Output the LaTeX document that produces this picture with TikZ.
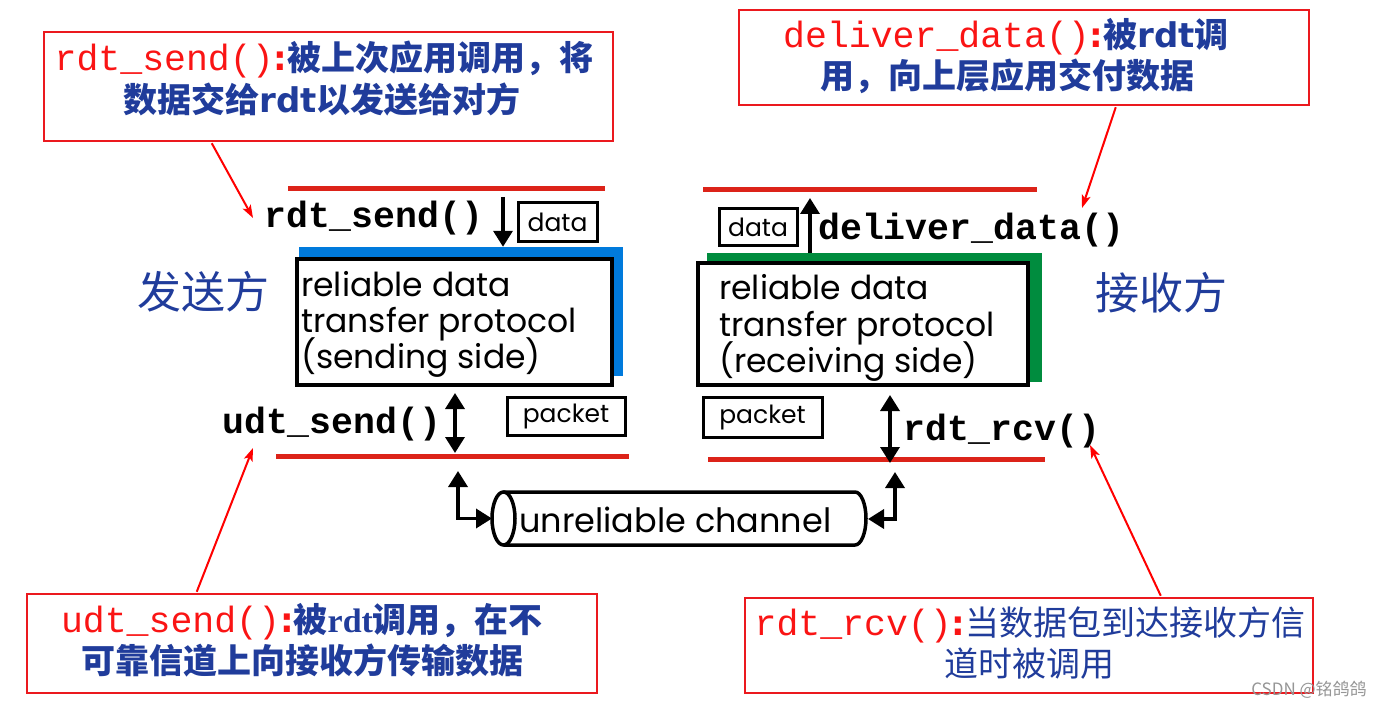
\documentclass[tikz,border=0pt]{standalone}
\usepackage{fontspec}
\usetikzlibrary{arrows.meta,calc}
\newfontfamily\cjk{Noto Sans CJK SC}
\newfontfamily\mono{Liberation Mono}
\newfontfamily\gothic{Poppins}
\newfontfamily\dejavu{DejaVu Sans}
\newfontfamily\tnr{Liberation Serif}
\definecolor{boxred}{RGB}{235,25,30}
\definecolor{txtred}{RGB}{250,20,20}
\definecolor{cnblue}{RGB}{32,60,155}
\definecolor{lnred}{RGB}{220,35,25}
\definecolor{sblue}{RGB}{0,122,220}
\definecolor{rgreen}{RGB}{0,140,62}
\definecolor{wmgray}{RGB}{150,150,150}
\tikzset{
  notebox/.style={draw=boxred, line width=2.5pt, inner sep=0pt},
  cnline/.style={anchor=base, inner sep=0pt, text=cnblue, font=\fontsize{34}{40}\selectfont},
  fnlabel/.style={anchor=base west, inner sep=0pt, font=\mono\bfseries\fontsize{36.5}{40}\selectfont},
  protobox/.style={draw=black, line width=3.5pt, fill=white, inner sep=0pt},
  shadowbox/.style={inner sep=0pt},
  prototext/.style={anchor=base west, inner sep=0pt, font=\gothic\fontsize{33}{36}\selectfont},
  tagbox/.style={draw=black, line width=3pt, fill=white, inner sep=0pt, font=\gothic\fontsize{25}{28}\selectfont},
  bigarrow/.style={line width=3.5pt, -{Triangle[length=16pt,width=19pt]}},
  dblarrow/.style={line width=3.5pt, {Triangle[length=16pt,width=19pt]}-{Triangle[length=16pt,width=19pt]}},
  redarrow/.style={draw=red, line width=2pt, -{Stealth[length=13pt,width=9pt,inset=3pt]}},
  layerline/.style={draw=lnred, line width=5pt},
  chanline/.style={draw=black, line width=3.5pt},
  side/.style={inner sep=0pt, text=cnblue, font=\cjk\fontsize{44}{48}\selectfont}
}
\newcommand{\rmono}[1]{{\color{txtred}\mono\fontsize{36.5}{40}\selectfont #1}{\color{txtred}\dejavu\bfseries :}}
\begin{document}
\begin{tikzpicture}[x=1pt,y=-1pt]
\useasboundingbox (0,0) rectangle (1390,711);
\fill[white] (0,0) rectangle (1390,711);

% ---------- note boxes ----------
\node[notebox, minimum width=569pt, minimum height=109pt] (tlbox) at (328.5,86.5) {};
\node[cnline] (tl1) at (324,71) {\rmono{rdt\_send()}{\cjk\bfseries 被上次应用调用，将}};
\node[cnline] (tl2) at (322,113) {{\cjk\bfseries 数据交给}{\dejavu\bfseries rdt}{\cjk\bfseries 以发送给对方}};

\node[notebox, minimum width=570pt, minimum height=95pt] (trbox) at (1024,57.5) {};
\node[cnline] (tr1) at (1006,48) {\rmono{deliver\_data()}{\cjk\bfseries 被}{\dejavu\bfseries rdt}{\cjk\bfseries 调}};
\node[cnline] (tr2) at (1007,89) {{\cjk\bfseries 用，向上层应用交付数据}};

\node[notebox, minimum width=570pt, minimum height=99pt] (blbox) at (312,643.5) {};
\node[cnline] (bl1) at (302,632) {\rmono{udt\_send()}{\cjk\bfseries 被}{\tnr\bfseries rdt}{\cjk\bfseries 调用，在不}};
\node[cnline] (bl2) at (302.5,673) {{\cjk\bfseries 可靠信道上向接收方传输数据}};

\node[notebox, minimum width=568pt, minimum height=95pt] (brbox) at (1029,645.5) {};
\node[cnline] (br1) at (1030,635) {\rmono{rdt\_rcv()}{\cjk 当数据包到达接收方信}};
\node[cnline] (br2) at (1029,676) {{\cjk 道时被调用}};

% ---------- side labels ----------
\node[side] (sender) at (203,292) {发送方};
\node[side] (receiver) at (1161,293) {接收方};

% ---------- layer lines ----------
\draw[layerline] (288,189) -- (605,189);
\draw[layerline] (703,190) -- (1037,190);
\draw[layerline] (276,456) -- (629,456);
\draw[layerline] (708,459) -- (1045,459);

% ---------- sender ----------
\node[shadowbox, fill=sblue, minimum width=324pt, minimum height=129pt] (sshadow) at (461,311.5) {};
\node[protobox, minimum width=315pt, minimum height=126pt] (sbox) at (454.5,322) {};
\node[prototext] (st1) at (301,297) {reliable data};
\node[prototext] (st2) at (301,333) {transfer protocol};
\node[prototext] (st3) at (301,369) {(sending side)};
\node[fnlabel] (rdtsend) at (264,228) {rdt\_send()};
\node[tagbox, minimum width=79pt, minimum height=39pt] (sdata) at (557.5,222.5) {data};
\node[fnlabel] (udtsend) at (222,433) {udt\_send()};
\node[tagbox, minimum width=118pt, minimum height=38pt] (spacket) at (566,416) {packet};

\coordinate (sdtop) at (503,197);
\draw[bigarrow] (sdtop) -- (sdtop |- sshadow.north);
\coordinate (sup) at (455,393);
\coordinate (sdn) at (455,453);
\draw[dblarrow] (sup) -- (sdn);

% ---------- receiver ----------
\node[shadowbox, fill=rgreen, minimum width=335pt, minimum height=129pt] (rshadow) at (874.5,317.5) {};
\node[protobox, minimum width=330pt, minimum height=122pt] (rbox) at (863,324) {};
\node[prototext] (rt1) at (719,300) {reliable data};
\node[prototext] (rt2) at (719,337) {transfer protocol};
\node[prototext] (rt3) at (719,373) {(receiving side)};
\node[fnlabel] (deliver) at (818,240) {deliver\_data()};
\node[tagbox, minimum width=78pt, minimum height=37pt] (rdata) at (758,227.5) {data};
\node[fnlabel] (rdtrcv) at (903,440) {rdt\_rcv()};
\node[tagbox, minimum width=119pt, minimum height=40pt] (rpacket) at (762.5,417) {packet};

\coordinate (rutop) at (810,198);
\draw[bigarrow] (rutop |- rshadow.north) -- (rutop);
\coordinate (rup) at (890,395);
\coordinate (rdn) at (890,463);
\draw[dblarrow] (rup) -- (rdn);

% ---------- channel ----------
\draw[chanline, fill=white] (503.5,492) -- (855,492)
   arc[start angle=-90, end angle=90, x radius=11, y radius=26.5] -- (503.5,545);
\draw[chanline, fill=white] (503.5,518.5) ellipse [x radius=11.5, y radius=26.5];
\node[anchor=base west, inner sep=0pt, font=\gothic\fontsize{33.5}{36}\selectfont] (chan) at (519,532) {unreliable channel};
\coordinate (chl) at (492,518.5);
\coordinate (chr) at (868,519);
\coordinate (sch) at (458,471);
\coordinate (rch) at (895,472);
\draw[dblarrow] (sch) |- (chl);
\draw[dblarrow] (rch) |- (chr);

% ---------- red pointers ----------
\coordinate (p1) at (253,218);
\coordinate (p2) at (1082,208);
\coordinate (p3) at (253,448);
\coordinate (p4) at (1090,445);
\draw[redarrow] (tlbox.south west) ++(169,1) -- (p1);
\draw[redarrow] (trbox.south west) ++(378,1) -- (p2);
\draw[redarrow] (blbox.north west) ++(171,-1) -- (p3);
\draw[redarrow] (brbox.north west) ++(417,-1) -- (p4);

% ---------- watermark text ----------
\node[inner sep=0pt, text=wmgray, font=\cjk\fontsize{17}{20}\selectfont] (csdn) at (1309,690) {CSDN @铭鸽鸽};
\end{tikzpicture}
\end{document}
